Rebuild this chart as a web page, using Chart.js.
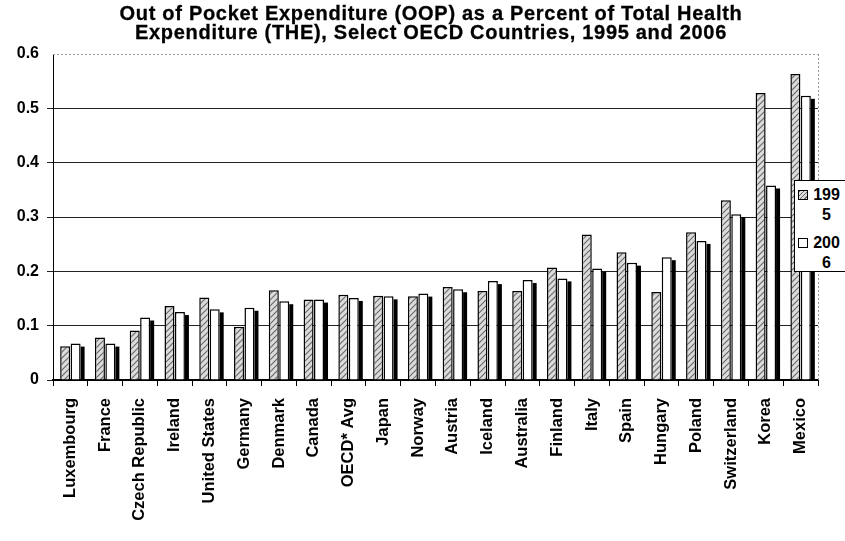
<!DOCTYPE html>
<html>
<head>
<meta charset="utf-8">
<script src="https://cdn.jsdelivr.net/npm/chart.js@4/dist/chart.umd.min.js"></script>
<style>
  body { margin: 0; background: #fff; }
  #wrap { position: relative; width: 845px; height: 541px; overflow: hidden; }
  #title {
    position: absolute; left: 0; top: 4px; width: 862px; text-align: center;
    font: bold 20px/19px "Liberation Sans", Arial, sans-serif; letter-spacing: 0.7px; color: #000;
    -webkit-text-stroke: 0.3px #000;
  }
  #legend {
    position: absolute; left: 794px; top: 180px; width: 60px; height: 90px;
    border: 1px solid #000; background: #fff;
    font: bold 16px "Liberation Sans", Arial, sans-serif; color: #000;
  }
  .item { display: flex; align-items: flex-start; margin-top: 4px; margin-left: 3px; }
  .item + .item { margin-top: 8px; }
  .sw { width: 8px; height: 8px; border: 1px solid #000; margin-top: 5px; margin-right: 2px; background: #fff; }
  .sw.hatch { background: repeating-linear-gradient(135deg, #666 0 1px, #ddd 1px 3px); }
  .txt { width: 33px; word-break: break-all; text-align: center; line-height: 20px; }
</style>
</head>
<body>
<div id="wrap">
  <canvas id="chart" width="845" height="541"></canvas>
  <div id="title">Out of Pocket Expenditure (OOP) as a Percent of Total Health<br>Expenditure (THE), Select OECD Countries, 1995 and 2006</div>
  <div id="legend"></div>
</div>
<script>
const countries = ["Luxembourg", "France", "Czech Republic", "Ireland", "United States", "Germany",
  "Denmark", "Canada", "OECD* Avg", "Japan", "Norway", "Austria", "Iceland", "Australia",
  "Finland", "Italy", "Spain", "Hungary", "Poland", "Switzerland", "Korea", "Mexico"];
const seriesNames = ["1995", "2006"];
const oop1995 = [0.062, 0.078, 0.091, 0.136, 0.152, 0.098, 0.165, 0.148, 0.157, 0.155, 0.154,
  0.171, 0.164, 0.164, 0.207, 0.268, 0.235, 0.162, 0.272, 0.331, 0.528, 0.563];
const oop2006 = [0.067, 0.067, 0.115, 0.125, 0.130, 0.133, 0.145, 0.148, 0.151, 0.154, 0.159,
  0.167, 0.182, 0.184, 0.187, 0.205, 0.216, 0.226, 0.256, 0.305, 0.358, 0.523];
const yTicks = [0, 0.1, 0.2, 0.3, 0.4, 0.5, 0.6];

const FONT = '"Liberation Sans", Arial, sans-serif';

// hatched fill for the 1995 bars
function makeHatch() {
  const c = document.createElement("canvas");
  c.width = 6; c.height = 6;
  const g = c.getContext("2d");
  g.fillStyle = "#dcdcdc";
  g.fillRect(0, 0, 6, 6);
  g.strokeStyle = "#6a6a6a";
  g.lineWidth = 1.2;
  g.beginPath();
  g.moveTo(0, 6); g.lineTo(6, 0);
  g.moveTo(-1, 1); g.lineTo(1, -1);
  g.moveTo(5, 7); g.lineTo(7, 5);
  g.stroke();
  return g.createPattern(c, "repeat");
}
const hatch = makeHatch();

// black drop shadow to the right of each 2006 bar, plus dotted frame top/right
const extras = {
  id: "extras",
  beforeDatasetsDraw(chart) {
    const ctx = chart.ctx;
    ctx.save();
    ctx.fillStyle = "#000";
    chart.getDatasetMeta(1).data.forEach(bar => {
      const right = bar.x + bar.width / 2;
      ctx.fillRect(right, bar.y + 3, 4, bar.base - bar.y - 3);
    });
    ctx.restore();
  },
  afterDraw(chart) {
    const a = chart.chartArea, ctx = chart.ctx;
    ctx.save();
    ctx.strokeStyle = "#999";
    ctx.lineWidth = 1;
    ctx.setLineDash([2, 2]);
    ctx.beginPath();
    ctx.moveTo(a.left, a.top + 0.5); ctx.lineTo(a.right, a.top + 0.5);
    ctx.moveTo(a.right + 0.5, a.top); ctx.lineTo(a.right + 0.5, a.bottom);
    ctx.stroke();
    ctx.restore();
  }
};

new Chart(document.getElementById("chart"), {
  type: "bar",
  data: {
    labels: countries,
    datasets: [
      { label: seriesNames[0], data: oop1995, backgroundColor: hatch, borderColor: "#000", borderWidth: 1.5,
        categoryPercentage: 0.6, barPercentage: 0.96 },
      { label: seriesNames[1], data: oop2006, backgroundColor: "#fff", borderColor: "#000", borderWidth: 1.5,
        categoryPercentage: 0.6, barPercentage: 0.96 }
    ]
  },
  options: {
    responsive: false,
    animation: false,
    layout: { padding: { left: 0, right: 27, top: 54, bottom: 0 } },
    plugins: {
      legend: { display: false },
      tooltip: { enabled: false },
      title: { display: false }
    },
    scales: {
      x: {
        grid: { display: true, drawOnChartArea: false, drawTicks: true, tickLength: 6, color: "#000", lineWidth: 1 },
        border: { color: "#000", width: 2 },
        ticks: { color: "#000", autoSkip: false, minRotation: 90, maxRotation: 90, padding: 12,
          font: { family: FONT, size: 16.5, weight: "bold" } },
        afterFit(s) { s.height = 161; }
      },
      y: {
        min: 0, max: 0.6,
        afterBuildTicks(s) { s.ticks = yTicks.map(v => ({ value: v })); },
        grid: {
          color: ctx => (ctx.tick && ctx.tick.value >= 0.6 ? "rgba(0,0,0,0)" : "#222"),
          lineWidth: 1, drawTicks: true, tickLength: 6
        },
        border: { color: "#000", width: 1 },
        ticks: { color: "#000", padding: 8,
          font: { family: FONT, size: 16, weight: "bold" },
          callback: v => (v === 0 ? "0" : v.toFixed(1)) },
        afterFit(s) { s.width = 53; }
      }
    }
  },
  plugins: [extras]
});

// legend as html text, narrow so the year wraps like the source
const legend = document.getElementById("legend");
seriesNames.forEach((name, i) => {
  legend.innerHTML += `<div class="item"><span class="sw${i === 0 ? " hatch" : ""}"></span><span class="txt">${name}</span></div>`;
});
</script>
</body>
</html>
